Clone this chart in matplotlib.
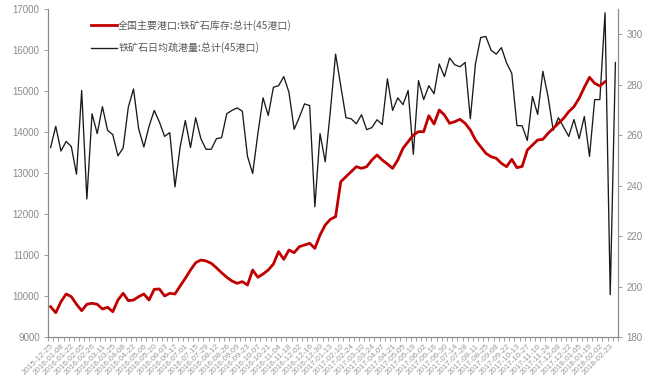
import numpy as np
import pandas as pd
import matplotlib
matplotlib.use("Agg")
import matplotlib.pyplot as plt
from matplotlib.ticker import FixedLocator

plt.rcParams['font.family'] = ['Liberation Sans', 'Noto Sans CJK SC', 'DejaVu Sans']

# Weekly observation dates (holiday weeks without data are dropped)
skipped_weeks = ['2016-02-12', '2017-01-27', '2017-02-03', '2017-10-06', '2018-02-16']
all_weeks = pd.date_range('2015-12-25', '2018-03-02', freq='7D')
dates = [d.strftime('%Y-%m-%d') for d in all_weeks
         if d.strftime('%Y-%m-%d') not in skipped_weeks]

# 全国主要港口铁矿石库存 (万吨), left axis
inventory = [
    9739, 9593, 9861, 10049, 9983, 9798, 9642, 9798, 9822, 9798,
    9683, 9725, 9617, 9902, 10066, 9886, 9902, 9983, 10049, 9902,
    10163, 10171, 10000, 10066, 10049, 10244, 10432, 10634, 10812, 10878,
    10854, 10797, 10690, 10568, 10456, 10366, 10309, 10350, 10268, 10634,
    10456, 10537, 10634, 10780, 11081, 10895, 11122, 11056, 11203, 11244,
    11285, 11163, 11488, 11732, 11871, 11935, 12788, 12910, 13032, 13154,
    13114, 13154, 13317, 13439, 13317, 13220, 13114, 13317, 13602, 13764,
    13927, 14008, 14008, 14398, 14195, 14537, 14415, 14212, 14252, 14310,
    14212, 14049, 13805, 13640, 13480, 13398, 13358, 13236, 13154, 13333,
    13130, 13160, 13561, 13683, 13805, 13821, 13968, 14090, 14212, 14334,
    14496, 14618, 14822, 15090, 15334, 15188, 15122, 15227,
]

# 铁矿石日均疏港量 (万吨), right axis
clearance = [
    255.1, 263.5, 253.7, 257.5, 255.5, 244.5, 277.7, 234.7, 268.5, 260.6,
    271.3, 261.9, 260.2, 251.8, 254.9, 271.1, 278.3, 262.5, 255.3, 263.5,
    269.8, 265.2, 259.5, 261.0, 239.5, 255.3, 265.8, 255.1, 266.9, 258.6,
    254.4, 254.4, 258.6, 259.0, 268.5, 269.8, 270.8, 269.5, 251.6, 244.8,
    260.6, 274.8, 267.8, 279.0, 279.6, 283.2, 277.0, 262.3, 267.1, 272.4,
    271.7, 231.6, 260.6, 249.4, 269.8, 292.1, 279.5, 266.9, 266.5, 264.5,
    268.1, 262.2, 263.0, 266.1, 264.2, 282.3, 269.8, 274.8, 272.1, 277.7,
    252.4, 281.6, 274.1, 279.6, 276.4, 288.2, 283.2, 290.6, 287.9, 287.1,
    288.8, 266.5, 288.4, 298.7, 299.1, 293.7, 292.1, 294.7, 288.6, 284.5,
    263.8, 263.7, 257.9, 275.3, 268.2, 285.3, 275.3, 261.9, 266.9, 263.2,
    259.5, 266.2, 258.6, 267.4, 251.6, 274.1, 274.1, 308.5, 196.8, 288.8,
]

label_inventory = '全国主要港口:铁矿石库存:总计(45港口)'
label_clearance = '铁矿石日均疏港量:总计(45港口)'

grey = '#8c8c8c'
text_grey = '#8a8a8a'

fig = plt.figure(figsize=(6.53, 3.81), dpi=100)
ax = fig.add_axes([48 / 653, 1 - 337 / 381, 570 / 653, 328 / 381])
ax2 = ax.twinx()

x = np.arange(len(dates))
l2, = ax2.plot(x, clearance, color='#1a1a1a', lw=0.95, zorder=2)
l1, = ax.plot(x[:len(inventory)], inventory, color='#c00000', lw=2.0,
              solid_joinstyle='round', zorder=3)
ax.set_zorder(ax2.get_zorder() + 1)
ax.patch.set_visible(False)

ax.set_xlim(-0.5, len(dates) - 0.5)
ax.set_ylim(9000, 17000)
ax2.set_ylim(180, 310)
ax.set_yticks(np.arange(9000, 17001, 1000))
ax2.set_yticks(np.arange(180, 301, 20))

# Category axis: marks between categories, labels on every other week
ax.xaxis.set_major_locator(FixedLocator(x[::2]))
ax.set_xticklabels(dates[::2], rotation=45, ha='right', rotation_mode='anchor',
                   fontsize=5.8, color='#9a9a9a')
ax.xaxis.set_minor_locator(FixedLocator(np.arange(-0.5, len(dates), 1)))
ax.tick_params(axis='x', which='major', length=0, pad=4)
ax.tick_params(axis='x', which='minor', length=3, color=grey, width=0.6,
               direction='out')

for a in (ax, ax2):
    for s in a.spines.values():
        s.set_color(grey)
        s.set_linewidth(0.8)
    a.spines['top'].set_visible(False)

ax.tick_params(axis='y', labelsize=7, colors=text_grey, length=3, width=0.6,
               color=grey, pad=3)
ax2.tick_params(axis='y', labelsize=7, colors=text_grey, length=3, width=0.6,
                color=grey, pad=3)

leg = ax.legend([l1, l2], [label_inventory, label_clearance],
                loc='upper left', bbox_to_anchor=(0.06, 0.995), frameon=False,
                handlelength=2.6, handletextpad=0.1, labelspacing=1.2,
                prop={'family': ['Noto Sans CJK SC', 'DejaVu Sans'], 'size': 7.2})
for t in leg.get_texts():
    t.set_color('#595959')

fig.savefig('out.png', dpi=100, facecolor='white')
